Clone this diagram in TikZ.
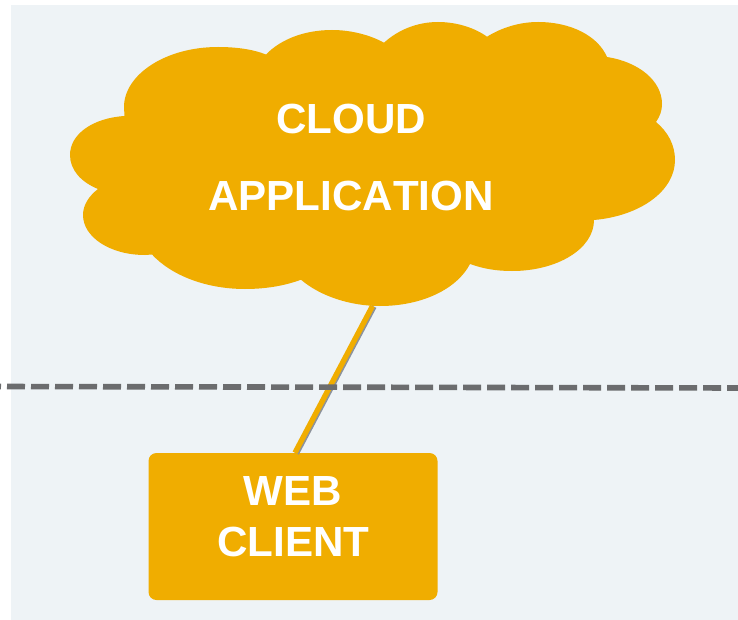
\documentclass[tikz,border=0pt]{standalone}
\usepackage{fontspec}
\setmainfont[Kerning=Off]{Liberation Sans}
\definecolor{panelblue}{HTML}{EEF3F6}
\definecolor{cloudorange}{HTML}{F0AD00}
\definecolor{dashgray}{HTML}{6B6C6E}
\definecolor{shadowgray}{HTML}{8C929B}
\tikzset{
  whitetext/.style={text=white, font=\fontsize{31.6}{38}\selectfont\bfseries, anchor=base, inner sep=0pt},
  clientbox/.style={fill=cloudorange, rounded corners=6pt, minimum width=216.75pt, minimum height=110.25pt, inner sep=0pt}
}
\begin{document}
\begin{tikzpicture}[x=0.75pt, y=-0.75pt]
\useasboundingbox (0,0) rectangle (738,620);
\fill[panelblue] (11,5) rectangle (738,620);
\fill[cloudorange] (266,54.5) .. controls (252,49) and (235,47) .. (218,47)
  .. controls (165,47) and (124,75) .. (124,107) -- (124.5,116)
  .. controls (93,118) and (70,134) .. (70,155) .. controls (70,170) and (81,182) .. (98,189)
  .. controls (89,196) and (83,205) .. (83,215) .. controls (83,237) and (110,255) .. (145,255) -- (152,254.5)
  .. controls (172,276) and (207,289) .. (245,289) .. controls (265,289) and (284,286) .. (301,279.7)
  .. controls (320,296) and (350,306) .. (380,306) .. controls (422,306) and (457,289) .. (470,264)
  .. controls (484,269) and (497,271) .. (512,271) .. controls (557,271) and (594,249) .. (594,220)
  .. controls (640,216) and (675,191) .. (675,160) .. controls (675,145) and (668,132) .. (656,122)
  .. controls (660,116) and (662,111) .. (662,104) .. controls (662,81) and (639,62) .. (607,57)
  .. controls (598,36) and (571,22) .. (538,22) .. controls (519,22) and (501,28) .. (487,36.7)
  .. controls (475,28) and (457,22) .. (438,22) .. controls (417,22) and (398,30) .. (384,42.7)
  .. controls (370,35) and (351,30) .. (332,30) .. controls (305,30) and (281,39) .. (266,54.5) -- cycle;
\node[whitetext] (cloudtext) at (351,134) {CLOUD};
\node[whitetext] (apptext) at (351,211) {APPLICATION};
\node[clientbox] (client) at (293,526.5) {};
\node[whitetext] (webtext) at (293,505.7) {WEB};
\node[whitetext] (clienttext) at (293.5,556.7) {CLIENT};
\coordinate (cloudend) at (372.5,306);
\coordinate (lineleft) at (0,386.5);
\coordinate (lineright) at (738,388);
\draw[shadowgray, line width=4pt] ([xshift=1.1pt,yshift=-0.5pt]cloudend) -- ([xshift=2.6pt,yshift=-0.5pt]client.north);
\draw[cloudorange, line width=4pt] (cloudend) -- ([xshift=1.5pt]client.north);
\draw[dashgray, line width=4.2pt, dash pattern=on 13.5pt off 4.5pt, dash phase=12.75pt] (lineleft) -- (lineright);
\end{tikzpicture}
\end{document}
